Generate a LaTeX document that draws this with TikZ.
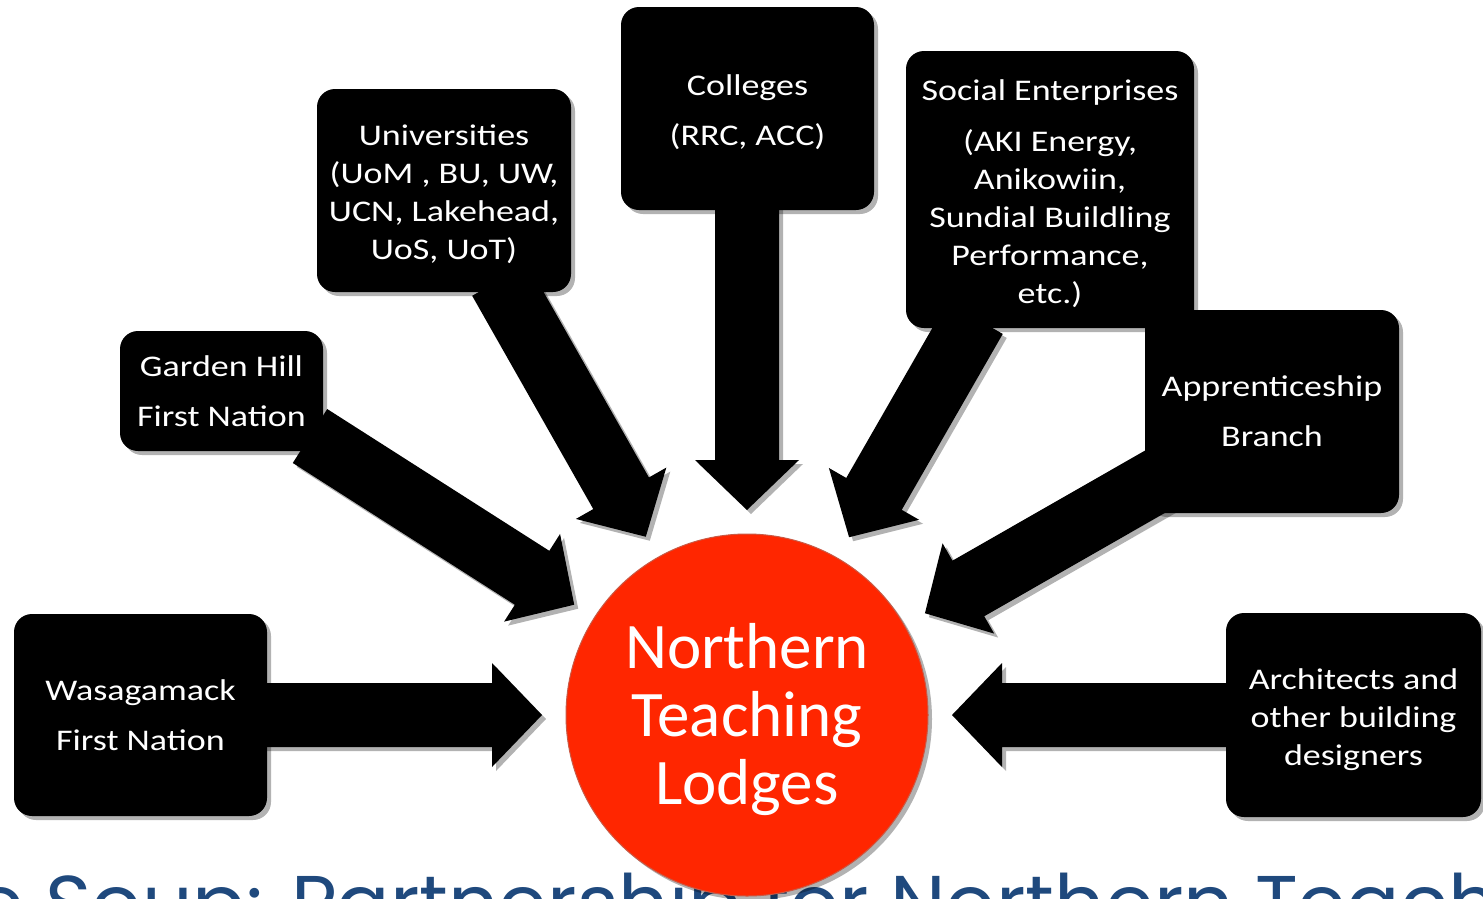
\documentclass[tikz,border=0pt]{standalone}
\usepackage{fontspec}
\setmainfont{Carlito}
\newfontfamily\boxfont[FakeStretch=1.2]{Carlito}
\newfontfamily\titlefont{Poppins}
\usetikzlibrary{calc,shadows}
\definecolor{ntlred}{RGB}{255,38,0}
\definecolor{ntlborder}{RGB}{200,90,70}
\definecolor{titleblue}{RGB}{31,73,125}
% block arrow from a named start coordinate towards the circle ntl
\newcommand\ntlarrow[1]{%
  \coordinate (T-#1) at ($(ntl.center)!205pt!(#1)$);
  \coordinate (B-#1) at ($(T-#1)!50pt!(#1)$);
  \fill[arrowfill] ($(#1)!32pt!90:(T-#1)$) -- ($(B-#1)!32pt!90:(T-#1)$)
    -- ($(B-#1)!52pt!90:(T-#1)$) -- (T-#1) -- ($(B-#1)!52pt!-90:(T-#1)$)
    -- ($(B-#1)!32pt!-90:(T-#1)$) -- ($(#1)!32pt!-90:(T-#1)$) -- cycle;
}
\begin{document}
\begin{tikzpicture}[x=1pt,y=-1pt,
  shadowed/.style={drop shadow={shadow xshift=4pt,shadow yshift=-4pt,opacity=.3,fill=black}},
  partner/.style={shadowed, fill=black, rounded corners=18pt, text=white, align=center,
    inner sep=0pt, font={\boxfont\fontsize{30}{38}\selectfont}},
  loose/.style={font={\boxfont\fontsize{30}{50}\selectfont}},
  arrowfill/.style={shadowed, fill=black},
]
\useasboundingbox (0,0) rectangle (1483,898);
\clip (0,0) rectangle (1483,898);
\fill[white] (0,0) rectangle (1483,898);

% title behind the circle
\node[anchor=base west, inner sep=0pt, text=titleblue,
  font={\titlefont\fontsize{79}{90}\selectfont}] (title) at (45,931)
  {\llap{Stone\ }Soup: Partnership for Northern Teaching Lodges};

% centre circle position (for arrows)
\coordinate (ntlc) at (747,715);
\path (ntlc) node[circle, minimum size=362, inner sep=0pt] (ntl) {};

% arrow starts
\coordinate (wS) at (262,715);
\coordinate (gS) at (310,436);
\coordinate (uS) at (500,280);
\coordinate (cS) at (747,205);
\coordinate (sS) at (975,318);
\coordinate (aS) at (1165,476);
\coordinate (rS) at (1232,715);

\ntlarrow{wS}
\ntlarrow{gS}
\ntlarrow{uS}
\ntlarrow{cS}
\ntlarrow{sS}
\ntlarrow{aS}
\ntlarrow{rS}

% partner boxes
\node[partner, loose, minimum width=253, minimum height=202] (wasa) at (140.5,715)
  {Wasagamack\\First Nation};
\node[partner, loose, minimum width=203, minimum height=120] (garden) at (221.5,391)
  {Garden Hill\\First Nation};
\node[partner, minimum width=254, minimum height=203] (univ) at (444,190.5)
  {\rule{0pt}{28pt}Universities\\(UoM , BU, UW,\\UCN, Lakehead,\\UoS, UoT)};
\node[partner, loose, minimum width=253, minimum height=203] (coll) at (747.5,108.5)
  {\rule{0pt}{29pt}Colleges\\(RRC, ACC)};
\node[partner, loose, minimum width=254, minimum height=203] (appr) at (1272,411.5)
  {Apprenticeship\\Branch};
\node[partner, minimum width=288, minimum height=277] (social) at (1050,189.5)
  {\rule{0pt}{29pt}Social Enterprises\\[13pt](AKI Energy,\\Anikowiin,\\Sundial Buildling\\Performance,\\etc.)};
\node[partner, minimum width=255, minimum height=204] (arch) at (1353.5,715)
  {\rule{0pt}{31pt}Architects and\\other building\\designers};

% centre circle
\node[circle, shadowed, fill=ntlred, draw=ntlborder, line width=1pt, minimum size=362,
  inner sep=0pt,
  label={[yshift=-5pt, text=white, align=center, font={\fontsize{65}{68}\selectfont}]center:Northern\\Teaching\\Lodges}]
  (ntlcircle) at (ntlc) {};
\end{tikzpicture}
\end{document}
